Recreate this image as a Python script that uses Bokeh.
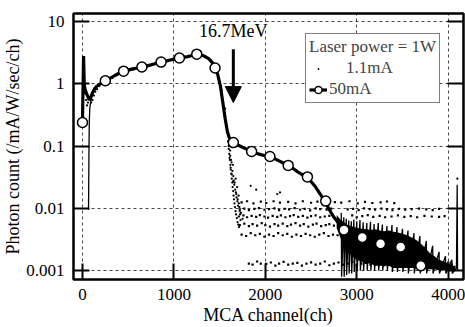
from bokeh.plotting import figure
from bokeh.models import (Range1d, FixedTicker, LogAxis, Legend, LegendItem,
                          Arrow, NormalHead, Label)
from bokeh.embed import file_html
from bokeh.resources import INLINE

FONT = "Liberation Serif"

# ---------------- data ----------------
x_ticks = [0, 1000, 2000, 3000, 4000]
y_ticks = [0.001, 0.01, 0.1, 1, 10]
y_tick_labels = ["0.001", "0.01", "0.1", "1", "10"]

# 50 mA: continuous spectrum (thick line)
line50_ch = [0, 12, 20, 30, 45, 60, 75, 90, 110, 130, 150, 180, 210, 250, 300, 350,
             400, 450, 500, 550, 600, 650, 700, 750, 800, 850, 900, 950, 1000,
             1050, 1100, 1150, 1200, 1250, 1300, 1340, 1380, 1420, 1450, 1480,
             1510, 1535, 1560, 1585, 1610, 1650, 1700, 1750, 1800, 1850, 1900,
             1950, 2000, 2050, 2100, 2150, 2200, 2250, 2300, 2350, 2400, 2450,
             2500, 2550, 2600, 2650, 2700, 2750, 2800, 2840]
line50_val = [0.24, 2.8, 0.95, 0.8, 0.7, 0.62, 0.55, 0.6, 0.72, 0.82, 0.9, 0.97, 1.03,
              1.12, 1.22, 1.35, 1.48, 1.6, 1.66, 1.74, 1.8, 1.87, 1.93, 2.02, 2.12,
              2.2, 2.3, 2.4, 2.5, 2.6, 2.66, 2.74, 2.85, 2.95, 2.9, 2.75, 2.55,
              2.2, 1.85, 1.4, 0.9, 0.5, 0.28, 0.17, 0.13, 0.114, 0.104, 0.096,
              0.089, 0.082, 0.077, 0.073, 0.07, 0.068, 0.063, 0.058, 0.053, 0.049,
              0.044, 0.039, 0.035, 0.032, 0.027, 0.022, 0.017, 0.013, 0.0095,
              0.0072, 0.0058, 0.005]

# 50 mA: open-circle markers
circ50_ch = [0, 250, 450, 650, 860, 1060, 1250, 1450, 1650, 1850, 2050, 2250,
             2460, 2660, 2860, 3060, 3260, 3480, 3700]
circ50_val = [0.24, 1.12, 1.6, 1.87, 2.24, 2.6, 3.0, 1.8, 0.114, 0.082, 0.068,
              0.049, 0.032, 0.0131, 0.0045, 0.0034, 0.0027, 0.0024, 0.0012]

# 50 mA: noisy tail (filled band between lower and upper envelopes)
noise50_ch = [2780, 2820, 2860, 2900, 2950, 3000, 3050, 3100, 3150, 3200, 3250,
              3300, 3350, 3400, 3450, 3500, 3550, 3600, 3650, 3700, 3750, 3800,
              3850, 3900, 3950, 4000, 4050, 4080]
noise50_hi = [0.0078, 0.0066, 0.006, 0.0054, 0.0051, 0.0049, 0.0047, 0.0046,
              0.0045, 0.0046, 0.0044, 0.0043, 0.0044, 0.0042, 0.0041, 0.0039,
              0.0037, 0.0034, 0.0031, 0.0027, 0.0023, 0.0019, 0.0017, 0.0015,
              0.0014, 0.0013, 0.0012, 0.0012]
noise50_lo = [0.0048, 0.0034, 0.0024, 0.002, 0.0017, 0.0015, 0.0014, 0.0013,
              0.0013, 0.0012, 0.0012, 0.0012, 0.0012, 0.0011, 0.0011, 0.0011,
              0.0011, 0.0011, 0.0011, 0.0011, 0.00105, 0.00105, 0.00105, 0.001,
              0.001, 0.001, 0.001, 0.001]

# 50 mA: individual noise spikes in the tail
spike50_ch = [2830, 2834, 2858, 2862, 2885, 2889, 2912, 2916, 2940, 2944, 2968,
              2972, 3000, 3004, 3035, 3039, 3070, 3074, 3110, 3114, 3150, 3154,
              3190, 3194, 3235, 3239, 3280, 3284, 3330, 3334, 3385, 3389, 3440,
              3444, 3500, 3504, 3560, 3564, 3625, 3629, 3690, 3694, 3760, 3764,
              3830, 3834, 3900, 3904, 3970, 3974, 4040, 4044, 4090, 4098, 4102]
spike50_val = [0.0085, 0.0008, 0.0072, 0.0008, 0.0068, 0.00085, 0.0064, 0.0009,
               0.0062, 0.0009, 0.0066, 0.00095, 0.0062, 0.001, 0.0065, 0.001,
               0.006, 0.001, 0.0058, 0.001, 0.0061, 0.001, 0.0056, 0.001, 0.0058,
               0.001, 0.0055, 0.001, 0.0052, 0.001, 0.0054, 0.00095, 0.005,
               0.00095, 0.0047, 0.00095, 0.0044, 0.0009, 0.004, 0.0009, 0.0036,
               0.0009, 0.003, 0.0009, 0.0025, 0.0009, 0.002, 0.0009, 0.0017,
               0.0009, 0.0015, 0.0009, 0.0011, 0.024, 0.001]

# 1.1 mA: rising edge at low channels
edge11_ch = [66, 68, 70, 72, 75, 80, 88, 100]
edge11_val = [0.0095, 0.02, 0.05, 0.12, 0.25, 0.4, 0.5, 0.6]

# 1.1 mA: individual channel dots (spectrum + falling edge)
dots11_ch = [20, 30, 40, 50, 60, 80, 95, 110, 125, 140, 160, 185, 220, 270, 330,
             400, 480, 560, 640, 720, 800, 900, 1000, 1100, 1200, 1300, 1400,
             1470, 1520, 1560, 1580, 1592, 1600, 1605, 1612, 1618, 1622, 1628,
             1633, 1638, 1642, 1648, 1652, 1657, 1662, 1668, 1674, 1680, 1688,
             1696, 1704, 1712, 1625, 1640, 1655, 1670, 1685, 1700, 1615, 1645,
             1675, 1692, 1708, 1720, 1728, 1840, 2130, 2160, 1900, 4100,
             1598, 1608, 1620, 1632, 1646, 1660, 1678, 1694, 1710, 1724,
             1603, 1616, 1630, 1650, 1665, 1683, 1698, 1716, 1735, 1750]
dots11_val = [0.9, 0.7, 0.55, 0.45, 0.5, 0.6, 0.5, 0.55, 0.65, 0.75, 0.82, 0.92,
              1.0, 1.1, 1.25, 1.45, 1.6, 1.7, 1.8, 1.95, 2.1, 2.3, 2.5, 2.65,
              2.8, 2.9, 2.4, 1.5, 0.8, 0.4, 0.2, 0.12, 0.09, 0.075, 0.06, 0.05,
              0.042, 0.036, 0.03, 0.026, 0.022, 0.019, 0.016, 0.014, 0.012, 0.0105,
              0.009, 0.008, 0.007, 0.006, 0.0055, 0.005, 0.06, 0.04, 0.028, 0.02,
              0.015, 0.011, 0.085, 0.05, 0.03, 0.022, 0.016, 0.009, 0.0065, 0.023,
              0.017, 0.018, 0.02, 0.03,
              0.1, 0.065, 0.045, 0.035, 0.027, 0.024, 0.018, 0.013, 0.012, 0.008,
              0.11, 0.07, 0.055, 0.033, 0.026, 0.017, 0.014, 0.0105, 0.0085, 0.0068]

# 1.1 mA: quantised low-count rows in the tail
row1_ch = [1740, 1800, 1870, 1950, 2010, 2090, 2160, 2250, 2330, 2410, 2500, 2570,
           2650, 2760, 2830, 2920, 3010, 3090, 3170, 3260, 3330, 3410]
row1_val = [0.0125, 0.013, 0.012, 0.0128, 0.0122, 0.013, 0.0124, 0.0127, 0.012,
            0.013, 0.0123, 0.0128, 0.0121, 0.0126, 0.0124, 0.013, 0.012, 0.0127,
            0.0122, 0.0125, 0.0129, 0.0121]
row2_ch = [1720, 1770, 1820, 1880, 1930, 1990, 2040, 2100, 2150, 2210, 2260, 2320,
           2380, 2430, 2490, 2550, 2600, 2670, 2720, 2900, 2960, 3020, 3080, 3140,
           3200, 3270, 3330, 3390, 3460, 3530, 3600, 3680, 3760, 3830, 3900]
row2_val = [0.0096, 0.0099, 0.0094, 0.0098, 0.0101, 0.0095, 0.0097, 0.01, 0.0094,
            0.0098, 0.0096, 0.0101, 0.0095, 0.0098, 0.0093, 0.01, 0.0097, 0.0095,
            0.0099, 0.0096, 0.0098, 0.0094, 0.01, 0.0097, 0.0095, 0.0099, 0.0096,
            0.0094, 0.0098, 0.0095, 0.0097, 0.0099, 0.0096, 0.0094, 0.0098]
row3_ch = [1710, 1760, 1800, 1850, 1900, 1940, 1990, 2030, 2080, 2130, 2170, 2220,
           2270, 2310, 2360, 2410, 2460, 2500, 2550, 2600, 2650, 2700, 2750, 2950,
           3000, 3060, 3120, 3180, 3250, 3310, 3380, 3450, 3520, 3590, 3660, 3740,
           3820, 3900, 3960]
row3_val = [0.0074, 0.0077, 0.0072, 0.0076, 0.0073, 0.0078, 0.0074, 0.0071, 0.0076,
            0.0073, 0.0077, 0.0072, 0.0075, 0.0078, 0.0073, 0.0076, 0.0071, 0.0075,
            0.0077, 0.0072, 0.0074, 0.0076, 0.0073, 0.0077, 0.0072, 0.0075, 0.0078,
            0.0073, 0.0076, 0.0072, 0.0074, 0.0077, 0.0073, 0.0075, 0.0072, 0.0076,
            0.0074, 0.0073, 0.0075]
row4_ch = [1720, 1770, 1820, 1860, 1910, 1960, 2000, 2050, 2100, 2140, 2190, 2240,
           2280, 2330, 2380, 2420, 2470, 2520, 2560, 2610, 2660, 2700, 2750, 2800]
row4_val = [0.0054, 0.0057, 0.0052, 0.0056, 0.0053, 0.0058, 0.0054, 0.0051, 0.0056,
            0.0053, 0.0057, 0.0052, 0.0055, 0.0058, 0.0053, 0.0056, 0.0051, 0.0055,
            0.0057, 0.0052, 0.0054, 0.0056, 0.0053, 0.0055]
row5_ch = [1740, 1790, 1840, 1890, 1940, 1990, 2040, 2090, 2140, 2190, 2240, 2290,
           2340, 2390, 2440, 2490, 2540, 2590, 2640, 2690, 2740, 2790]
row5_val = [0.0038, 0.0036, 0.004, 0.0037, 0.0039, 0.0035, 0.0038, 0.0036, 0.004,
            0.0037, 0.0039, 0.0035, 0.0038, 0.0036, 0.0039, 0.0037, 0.0035, 0.0038,
            0.004, 0.0036, 0.0038, 0.0037]
row6_ch = [1820, 1860, 1910, 1950, 2010, 2060, 2110, 2150, 2200, 2250, 2300, 2350,
           2400, 2450, 2500, 2550, 2600, 2650, 2700, 2750, 2800, 2850, 2900, 2950,
           3000, 3050, 3100, 3150, 3200, 3250, 3300, 3350, 3400, 3450, 3500, 3550,
           3600, 3650, 3700, 3750, 3800, 3850, 3900, 3950, 4000, 4040]
row6_val = [0.0013, 0.00125, 0.0014, 0.0013, 0.00128, 0.00135, 0.0012, 0.0013,
            0.00138, 0.00125, 0.0013, 0.00133, 0.0012, 0.0013, 0.00136, 0.00125,
            0.0013, 0.0014, 0.00122, 0.0013, 0.00135, 0.00125, 0.0013, 0.00138,
            0.0012, 0.0013, 0.00133, 0.00125, 0.0013, 0.0014, 0.00122, 0.0013,
            0.00135, 0.00125, 0.0013, 0.00138, 0.0012, 0.0013, 0.00133, 0.00125,
            0.0013, 0.0014, 0.00122, 0.0013, 0.00135, 0.00125]

rows_ch_all = row1_ch + row2_ch + row3_ch + row4_ch + row5_ch + row6_ch
rows_val_all = row1_val + row2_val + row3_val + row4_val + row5_val + row6_val

# ---------------- figure ----------------
p = figure(width=465, height=327, y_axis_type="log",
           x_range=Range1d(-98, 4167), y_range=Range1d(0.00072, 13.5),
           output_backend="svg", toolbar_location=None,
           min_border_left=72, min_border_right=2, min_border_top=13,
           min_border_bottom=46)
p.background_fill_color = "white"
p.border_fill_color = "white"
p.outline_line_color = "black"
p.outline_line_width = 2.5

# grids
for g in (p.xgrid[0], p.ygrid[0]):
    g.grid_line_color = "black"
    g.grid_line_dash = "3 3"
    g.grid_line_width = 0.8
    g.grid_line_alpha = 0.9
p.xgrid[0].ticker = FixedTicker(ticks=x_ticks)
p.ygrid[0].ticker = FixedTicker(ticks=y_ticks)

# axes
xa = p.xaxis[0]
xa.ticker = FixedTicker(ticks=x_ticks)
ya = p.yaxis[0]
ya.ticker = FixedTicker(ticks=y_ticks)
ya.major_label_overrides = {t: l for t, l in zip(y_ticks, y_tick_labels)}

ra = LogAxis(ticker=FixedTicker(ticks=y_ticks))
p.add_layout(ra, "right")

for ax in (xa, ya, ra):
    ax.axis_line_color = None
    ax.major_tick_in = 16
    ax.major_tick_out = 0
    ax.major_tick_line_width = 2
    ax.major_tick_line_color = "black"
    ax.minor_tick_line_color = None
    ax.major_label_text_font = FONT
    ax.major_label_text_font_size = "17px"
    ax.major_label_text_color = "black"
    ax.axis_label_text_font = FONT
    ax.axis_label_text_font_size = "18px"
    ax.axis_label_text_font_style = "normal"
    ax.axis_label_text_color = "black"
ra.major_label_overrides = {t: "" for t in y_ticks}
ra.major_label_standoff = 0

xa.axis_label = "MCA channel(ch)"
xa.major_label_standoff = 9
xa.axis_label_standoff = 2
ya.axis_label = "Photon count (/mA/W/sec/ch)"
ya.major_label_standoff = 9
ya.axis_label_standoff = 0

# glyphs
p.varea(x=noise50_ch, y1=noise50_lo, y2=noise50_hi, fill_color="black")
p.line(spike50_ch, spike50_val, line_color="black", line_width=1.3)
p.line(edge11_ch, edge11_val, line_color="black", line_width=1.3)
p.scatter(rows_ch_all, rows_val_all, marker="square", size=2.2,
          fill_color="black", line_color=None)
dots_r = p.scatter(dots11_ch, dots11_val, marker="dot", size=9,
                   fill_color="black", line_color="black")
line_r = p.line(line50_ch, line50_val, line_color="black", line_width=3.2)
circ_r = p.scatter(circ50_ch, circ50_val, marker="circle", size=10,
                   fill_color="white", line_color="black", line_width=1.5)

# annotation arrow + text
p.add_layout(Arrow(end=NormalHead(size=16, fill_color="black", line_color="black"),
                   x_start=1650, y_start=3.6, x_end=1650, y_end=0.5,
                   line_color="black", line_width=3))
p.add_layout(Label(x=1650, y=7.0, text="16.7MeV", text_align="center",
                   text_baseline="alphabetic", text_font=FONT,
                   text_font_size="18px", text_color="black"))

# legend
legend = Legend(items=[
    LegendItem(label="\u00a0\u00a0\u00a0\u00a01.1mA", renderers=[dots_r]),
    LegendItem(label="50mA", renderers=[line_r, circ_r]),
], title="Laser power = 1W", location=(232, 176))
legend.title_text_font = FONT
legend.title_text_font_size = "17px"
legend.title_text_font_style = "normal"
legend.title_standoff = 1
legend.label_text_font = FONT
legend.label_text_font_size = "17px"
legend.label_standoff = 2
legend.label_height = 18
legend.glyph_height = 19
legend.glyph_width = 18
legend.spacing = 1
legend.padding = 3
legend.margin = 0
legend.border_line_color = "black"
legend.border_line_width = 1.5
legend.background_fill_alpha = 1
p.add_layout(legend)

open("out.html", "w").write(file_html(p, INLINE))
